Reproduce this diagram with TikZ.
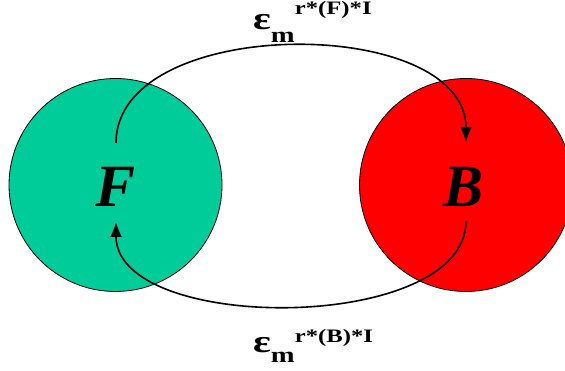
\documentclass[tikz,border=0pt]{standalone}
\usepackage{fontspec}
\setmainfont{Liberation Serif}
\usepackage{tikz}
\usetikzlibrary{arrows.meta}
\definecolor{fgreen}{RGB}{0,204,153}

\tikzset{
  set/.style={circle,draw,line width=0.8pt,minimum size=213pt,inner sep=0pt},
  letter/.style={anchor=base,inner sep=0pt,font=\fontsize{60}{60}\selectfont\bfseries\itshape},
  flow/.style={line width=1.6pt,-{Latex[length=15pt,width=12pt]}},
  rate/.style={anchor=base west,inner sep=0pt,font=\bfseries}
}
\newcommand{\epsrate}[3]{\scalebox{1.3}[1]{{\fontsize{32}{32}\selectfont ε}\raisebox{-#2pt}{\fontsize{22}{22}\selectfont m}\raisebox{#3pt}{\fontsize{19}{19}\selectfont #1}}}

\begin{document}
\begin{tikzpicture}[x=1pt,y=1pt]
\useasboundingbox (0,0) rectangle (565,371);
\clip (0,0) rectangle (565,371);
\node[set,fill=fgreen] (Fset) at (115.5,186) {};
\node[set,fill=red] (Bset) at (466,186) {};
\node[letter] (F) at (116,164) {F};
\node[letter] (B) at (464,164) {B};

\coordinate (Fout) at (116,228);
\coordinate (Bin) at (466,229);
\coordinate (Bout) at (466,150);
\coordinate (Fin) at (116,149);
\draw[flow] (Fout) .. controls (116,357) and (466,357) .. (Bin);
\draw[flow] (Bout) .. controls (466,37) and (116,37) .. (Fin);

\node[rate] (Frate) at (253,341) {\epsrate{r*(F)*I}{13}{15}};
\node[rate] (Brate) at (253,18) {\epsrate{r*(B)*I}{10}{10}};
\end{tikzpicture}
\end{document}
